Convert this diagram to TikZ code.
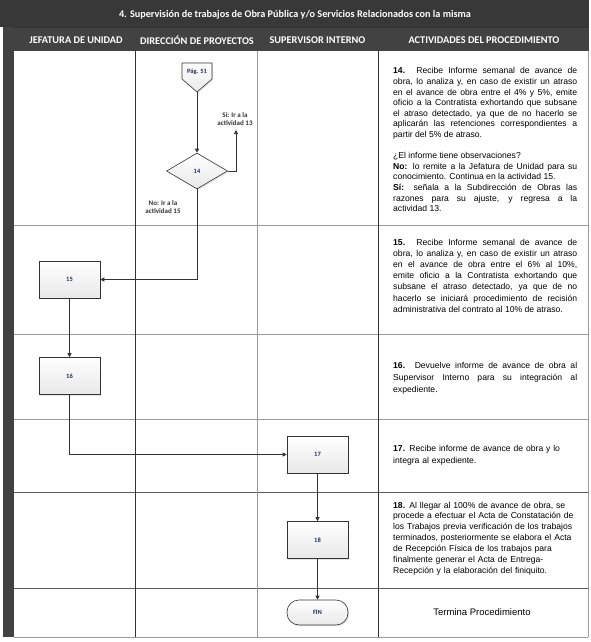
\documentclass[tikz,border=0pt]{standalone}
\usepackage{fontspec}
\setmainfont{Liberation Sans}
\newfontfamily\carl{Carlito}
\usetikzlibrary{arrows.meta,shapes.geometric,shadows}
\definecolor{hdr}{HTML}{383838}
\definecolor{hdrtwo}{HTML}{424242}
\definecolor{navy}{HTML}{1F2F5A}
\definecolor{gridgray}{HTML}{9A9A9A}
\definecolor{griddark}{HTML}{333333}
\tikzset{
  hdrtext/.style={text=white,font=\carl\bfseries\fontsize{10.3}{12}\selectfont,inner sep=0},
  acttext/.style={anchor=base west,inner sep=0,text width=184pt,align=justify,
    font=\fontsize{8.6}{10.6}\selectfont},
  actleft/.style={acttext,align=left},
  procbox/.style={draw=griddark,line width=0.6pt,minimum width=61pt,minimum height=37pt,
    top color=white,bottom color=gray!18,inner sep=0,
    drop shadow={opacity=0.2,shadow xshift=1.2pt,shadow yshift=-1.2pt},
    font=\carl\bfseries\fontsize{6.5}{7}\selectfont,text=navy},
  decbox/.style={procbox,diamond,aspect=1,minimum width=61pt,minimum height=36pt},
  endbox/.style={procbox,rounded corners=12pt,minimum height=25pt},
  flowlbl/.style={font=\carl\bfseries\fontsize{7}{8}\selectfont,text=griddark,align=center,inner sep=0},
  conn/.style={draw=griddark,line width=0.7pt,-{Triangle[length=4pt,width=4pt]}},
}
\begin{document}
\begin{tikzpicture}[x=1pt,y=-1pt]
\useasboundingbox (0,0) rectangle (590,642);
\fill[white] (0,0) rectangle (590,642);
% header bars
\fill[hdr] (0,0) rectangle (589,27);
\fill[hdrtwo] (3,27) rectangle (589,51);
\fill[hdrtwo] (3,51) rectangle (14,637);
\draw[black!80] (14,27) -- (589,27);
% body grid
\draw[gridgray,line width=0.8pt] (14,637) -- (588,637);
\draw[gridgray,line width=0.8pt] (588,51) -- (588,637);
\foreach \yy in {225,334,419} \draw[gridgray,line width=0.8pt] (14,\yy) -- (588,\yy);
\foreach \yy in {492,588} \draw[griddark!80,line width=0.8pt] (14,\yy) -- (588,\yy);
\draw[griddark,line width=0.7pt] (135,51) -- (135,637);
\draw[gridgray,line width=0.8pt] (257,51) -- (257,637);
\draw[griddark,line width=0.7pt] (378,51) -- (378,637);
% titles
\node[hdrtext,font=\carl\bfseries\fontsize{10.2}{12}\selectfont] (title) at (295,15) {4. Supervisión de trabajos de Obra Pública y/o Servicios Relacionados con la misma};
\node[hdrtext] (h1) at (76,40) {JEFATURA DE UNIDAD};
\node[hdrtext] (h2) at (197,40) {DIRECCIÓN DE PROYECTOS};
\node[hdrtext] (h3) at (317.5,40) {SUPERVISOR INTERNO};
\node[hdrtext] (h4) at (484,40) {ACTIVIDADES DEL PROCEDIMIENTO};
% off-page connector
\path[draw=griddark,line width=0.6pt,top color=white,bottom color=gray!18,
  drop shadow={opacity=0.2,shadow xshift=1.2pt,shadow yshift=-1.2pt}]
  (182,63) -- (212,63) -- (212,79) -- (197,92) -- (182,79) -- cycle;
\node[flowlbl,text=navy,font=\carl\bfseries\fontsize{6.5}{7}\selectfont] (pag) at (197,71.5) {Pág. 51};
\coordinate (pagtip) at (197,92);
% flow nodes
\node[decbox] (d14) at (197,171) {14};
\node[procbox] (b15) at (69.5,279.5) {15};
\node[procbox] (b16) at (69.5,376) {16};
\node[procbox] (b17) at (317.5,454.5) {17};
\node[procbox] (b18) at (317.5,540) {18};
\node[endbox] (fin) at (317.5,612.5) {FIN};
\coordinate (si) at (236,130);
% connectors
\draw[conn] (pagtip) -- (d14.north);
\draw[conn] (d14.east) -| (si);
\draw[conn] (d14.south) |- (b15.east);
\draw[conn] (b15) -- (b16);
\draw[conn] (b16.south) |- (b17.west);
\draw[conn] (b17) -- (b18);
\draw[conn] (b18) -- (fin);
% flow labels
\node[flowlbl] (silbl) at (235,119) {Sí: Ir a la\\actividad 13};
\node[flowlbl] (nolbl) at (163,207) {No: Ir a la\\actividad 15};
% activity texts
\node[acttext] (t14) at (393,74) {\textbf{14.} Recibe Informe semanal de avance de\linebreak obra, lo analiza y, en caso de existir un atraso\linebreak en el avance de obra entre el 4\% y 5\%, emite\linebreak oficio a la Contratista exhortando que subsane\linebreak el atraso detectado, ya que de no hacerlo se\linebreak aplicarán las retenciones correspondientes a\linebreak partir del 5\% de atraso.\par\vspace{10.6pt}
¿El informe tiene observaciones?\par
\textbf{No:} lo remite a la Jefatura de Unidad para su\linebreak conocimiento. Continua en la actividad 15.\par
\textbf{Sí:} señala a la Subdirección de Obras las\linebreak razones para su ajuste, y regresa a la\linebreak actividad 13.};
\node[acttext,font=\fontsize{8.6}{11.2}\selectfont] (t15) at (393,245) {\textbf{15.} Recibe Informe semanal de avance de\linebreak obra, lo analiza y, en caso de existir un atraso\linebreak en el avance de obra entre el 6\% al 10\%,\linebreak emite oficio a la Contratista exhortando que\linebreak subsane el atraso detectado, ya que de no\linebreak hacerlo se iniciará procedimiento de recisión\linebreak administrativa del contrato al 10\% de atraso.};
\node[acttext,font=\fontsize{8.6}{12}\selectfont] (t16) at (393,368) {\textbf{16.} Devuelve informe de avance de obra al\linebreak Supervisor Interno para su integración al\linebreak expediente.};
\node[actleft,font=\fontsize{8.6}{12.5}\selectfont] (t17) at (393,451) {\textbf{17.} Recibe informe de avance de obra y lo\\integra al expediente.};
\node[actleft,font=\fontsize{8.6}{10.9}\selectfont] (t18) at (393,508) {\textbf{18.} Al llegar al 100\% de avance de obra, se\\procede a efectuar el Acta de Constatación de\\los Trabajos previa verificación de los trabajos\\terminados, posteriormente se elabora el Acta\\de Recepción Física de los trabajos para\\finalmente generar el Acta de Entrega-\\Recepción y la elaboración del finiquito.};
\node[font=\fontsize{9.5}{11}\selectfont,inner sep=0] (term) at (482,612) {Termina Procedimiento};
\end{tikzpicture}
\end{document}
